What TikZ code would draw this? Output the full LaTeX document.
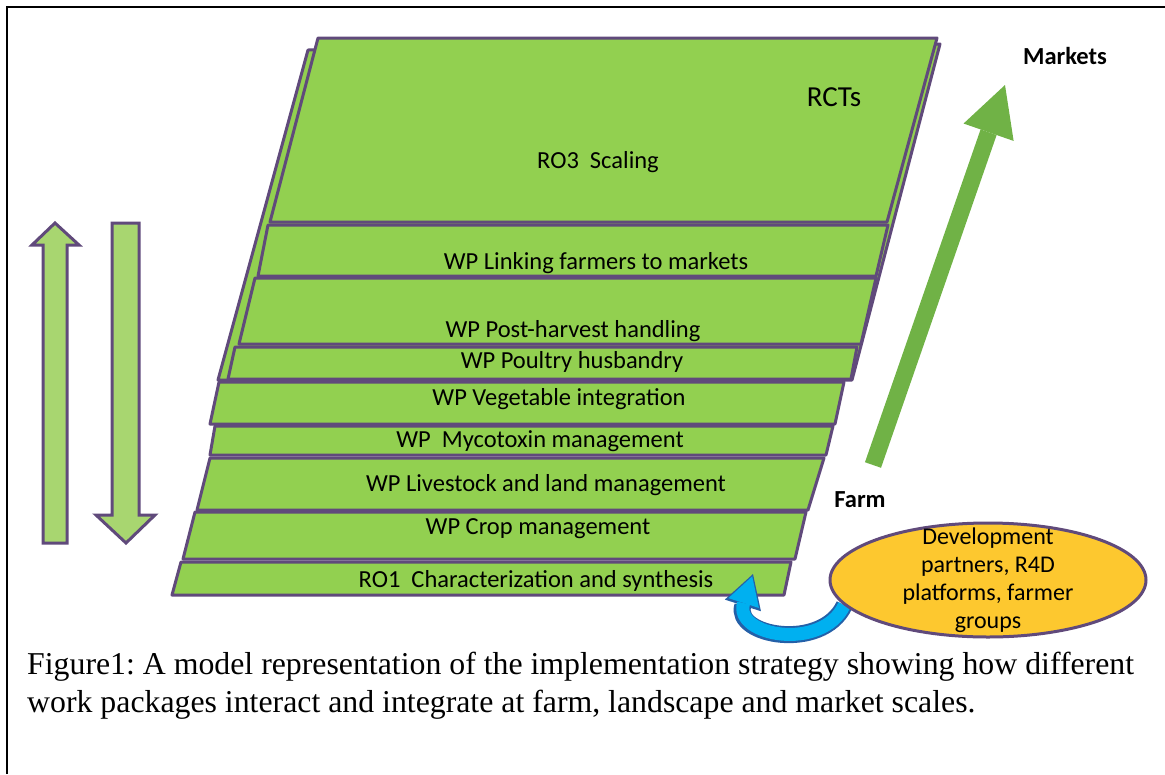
\documentclass[tikz,border=0pt]{standalone}
\usepackage{fontspec}
\setmainfont{Liberation Serif}
\newfontfamily\calibri{Carlito}
\usetikzlibrary{arrows.meta,shapes.geometric}
\definecolor{layerColor}{RGB}{146,208,80}
\definecolor{edgeColor}{RGB}{96,74,123}
\definecolor{sideArrowColor}{RGB}{168,214,112}
\definecolor{scaleArrowColor}{RGB}{112,178,70}
\definecolor{partnerColor}{RGB}{253,200,47}
\definecolor{loopColor}{RGB}{0,176,240}
\definecolor{loopEdgeColor}{RGB}{36,96,168}
\tikzset{layer/.style={fill=layerColor, draw=edgeColor, line width=3pt, line join=round}}
\tikzset{wptext/.style={font=\calibri\fontsize{24.5}{28}\selectfont, inner sep=0pt}}
\tikzset{scaletext/.style={font=\calibri\bfseries\fontsize{24.5}{28}\selectfont, inner sep=0pt}}
\tikzset{sidearrow/.style={fill=sideArrowColor, draw=edgeColor, line width=3pt}}
\frenchspacing

\begin{document}
\begin{tikzpicture}[x=1pt, y=-1pt]
\pgfdeclarelayer{front}
\pgfsetlayers{main,front}
\useasboundingbox (0,0) rectangle (1165,774);

% Frame
\draw[line width=2pt] (7,774) -- (7,7) -- (1165,7);

% Sheet behind the upper layers
\draw[layer] (308,50) -- (940,44) -- (852,380) -- (218,380) -- cycle;

% Layers
\draw[layer] (318,38) -- (937,38) -- (887,222) -- (270,222) -- cycle;
\draw[layer] (268,225) -- (888,225) -- (876,276) -- (258,276) -- cycle;
\draw[layer] (255,278) -- (876,278) -- (861,344) -- (239,344) -- cycle;
\draw[layer] (235,347) -- (857,347) -- (851,379) -- (228,379) -- cycle;
\draw[layer] (219,382) -- (844,382) -- (835,424) -- (210,424) -- cycle;
\draw[layer] (215,426) -- (833,426) -- (826,455) -- (210,455) -- cycle;
\draw[layer] (210,458) -- (824,458) -- (808,510) -- (197,510) -- cycle;
\draw[layer] (195,512) -- (806,512) -- (795,559) -- (183,559) -- cycle;
\draw[layer] (181,562) -- (791,562) -- (784,595) -- (172,595) -- cycle;

% Labels
\node (RCTs) [wptext, font=\calibri\fontsize{29}{33}\selectfont] at (834,97) {RCTs};
\node (Scaling) [wptext] at (598,162) {RO3~~Scaling};
\node (Linking) [wptext] at (596,263) {WP Linking farmers to markets};
\node (PostHarvest) [wptext] at (573,331) {WP Post-harvest handling};
\node (Poultry) [wptext] at (572,362) {WP Poultry husbandry};
\node (Vegetable) [wptext] at (559,399) {WP Vegetable integration};
\node (Mycotoxin) [wptext] at (540,441) {WP~~Mycotoxin management};
\node (Livestock) [wptext] at (546,485) {WP Livestock and land management};
\node (Crop) [wptext] at (538,529) {WP Crop management};
\node (Characterization) [wptext] at (536,581) {RO1~~Characterization and synthesis};
\coordinate (RO1in) at (753,574);

% Scale
\node (Markets) [scaletext] at (1065,56) {Markets};
\node (Farm) [scaletext] at (860,500) {Farm};
\coordinate (farmgo) at (873,465);
\coordinate (marketgo) at (1005,85);
\draw[line width=17pt, scaleArrowColor, -{Triangle[width=53pt,length=50pt,line width=0pt]}] (farmgo) -- (marketgo);

% Up and down arrows
\draw[sidearrow] (43,543) -- (43,245) -- (32,245) -- (55,223) -- (79,245) -- (67,245) -- (67,543) -- cycle;
\draw[sidearrow] (112,223) -- (139,223) -- (139,515) -- (155,515) -- (126,543) -- (96,515) -- (112,515) -- cycle;

% Partners
\begin{pgfonlayer}{front}
\node (partners) [ellipse, fill=partnerColor, draw=edgeColor, line width=3pt, inner sep=0pt, minimum width=316pt, minimum height=114pt] at (988,580) {};
\node (partnersText) [align=center, inner sep=0pt, font=\calibri\fontsize{24}{28}\selectfont] at (partners.center) {Development\\partners, R4D\\platforms, farmer\\groups};
\end{pgfonlayer}

\draw[line width=17pt, loopEdgeColor, -{Triangle[width=38pt,length=33pt,line width=0pt]}] (partners.190) .. controls (822,652) and (733,636) .. (RO1in);
\draw[line width=13pt, loopColor, shorten >=2.5pt, -{Triangle[width=32pt,length=28pt,line width=0pt]}] (partners.190) .. controls (822,652) and (733,636) .. (RO1in);

% Caption
\node (caption) [anchor=west, align=left, inner sep=0pt, font=\fontsize{31.8}{38}\selectfont] at (27,686) {Figure1: A model representation of the implementation strategy showing how different\\work packages interact and integrate at farm, landscape and market scales.};

\end{tikzpicture}
\end{document}
